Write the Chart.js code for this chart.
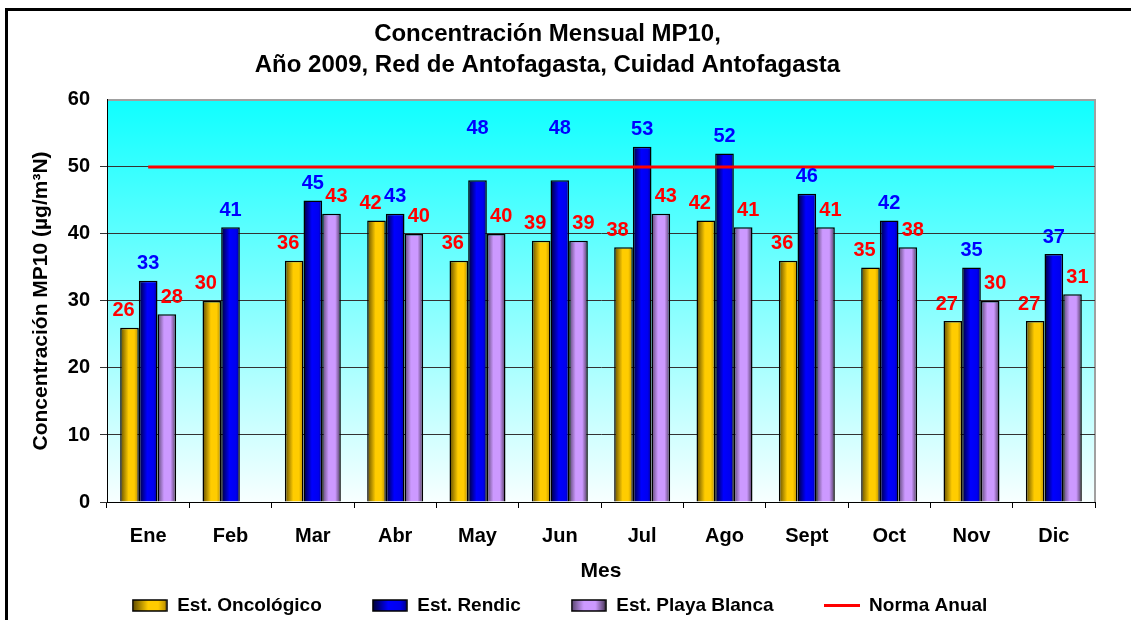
<!DOCTYPE html>
<html lang="es">
<head>
<meta charset="UTF-8">
<title>Concentración Mensual MP10</title>
<script src="https://cdn.jsdelivr.net/npm/chart.js@4.4.1/dist/chart.umd.min.js"></script>
<style>
  html, body { margin: 0; padding: 0; background: #ffffff; }
  .wrap { position: relative; width: 1131px; height: 620px; }
</style>
</head>
<body>
<div class="wrap"><canvas id="mp10"></canvas></div>
<script>
// datos
const meses = ['Ene', 'Feb', 'Mar', 'Abr', 'May', 'Jun', 'Jul', 'Ago', 'Sept', 'Oct', 'Nov', 'Dic'];
const oncologico = [26, 30, 36, 42, 36, 39, 38, 42, 36, 35, 27, 27];
const rendic = [33, 41, 45, 43, 48, 48, 53, 52, 46, 42, 35, 37];
const playaBlanca = [28, null, 43, 40, 40, 39, 43, 41, 41, 38, 30, 31];
const normaAnual = [50, 50, 50, 50, 50, 50, 50, 50, 50, 50, 50, 50];
const yMin = 0, yMax = 60, yPaso = 10;

const FONT = '"Liberation Sans", Arial, sans-serif';
const CAT_PCT = 0.68;

const gradAmarillo = [[0, '#5e4a00'], [0.45, '#ffcc00'], [0.75, '#ffcc00'], [1, '#b88c00']];
const gradAzul = [[0, '#000033'], [0.45, '#0000ff'], [0.8, '#0000f0'], [1, '#000090']];
const gradLila = [[0, '#5a4670'], [0.35, '#cc99ff'], [0.7, '#cc99ff'], [1, '#4a3858']];

// relleno degradado horizontal para cada barra
function rellenoBarra(stops, idx) {
  return function (c) {
    const chart = c.chart;
    const x = chart.scales && chart.scales.x;
    if (!x || c.type !== 'data') return stops[1][1];
    const centro = x.getPixelForValue(c.dataIndex);
    if (!Number.isFinite(centro) || !x.width) return stops[1][1];
    const w = x.width / meses.length * CAT_PCT / 3;
    const izq = centro - w * 1.5 + w * idx;
    const g = chart.ctx.createLinearGradient(izq, 0, izq + w, 0);
    stops.forEach(s => g.addColorStop(s[0], s[1]));
    return g;
  };
}

// muestras de la leyenda
function muestra(stops) {
  const cv = document.createElement('canvas');
  cv.width = 36; cv.height = 13;
  const c = cv.getContext('2d');
  const g = c.createLinearGradient(1, 0, 35, 0);
  stops.forEach(s => g.addColorStop(s[0], s[1]));
  c.fillStyle = g;
  c.fillRect(1, 1, 34, 11);
  c.strokeStyle = '#000';
  c.lineWidth = 1.5;
  c.strokeRect(1, 1, 34, 11);
  return cv;
}
function muestraLinea() {
  const cv = document.createElement('canvas');
  cv.width = 36; cv.height = 13;
  const c = cv.getContext('2d');
  c.fillStyle = '#ff0000';
  c.fillRect(0, 5, 36, 3);
  return cv;
}
const muestras = [muestra(gradAmarillo), muestra(gradAzul), muestra(gradLila), muestraLinea()];

const fondo = {
  id: 'fondo',
  afterLayout(chart) {
    // la leyenda del original está algo corrida a la derecha
    chart.legend.left += 12;
    chart.legend.right += 12;
  },
  beforeDraw(chart) {
    const { ctx, chartArea: a } = chart;
    ctx.save();
    // marco exterior
    ctx.strokeStyle = '#000';
    ctx.lineWidth = 3;
    ctx.strokeRect(6.5, 9.5, 1200, 700);
    const g = ctx.createLinearGradient(0, a.top, 0, a.bottom);
    g.addColorStop(0, '#0fffff');
    g.addColorStop(1, '#f8ffff');
    ctx.fillStyle = g;
    ctx.fillRect(a.left, a.top, a.right - a.left, a.bottom - a.top);
    ctx.strokeStyle = '#a0a0a0';
    ctx.lineWidth = 2;
    ctx.beginPath();
    ctx.moveTo(a.left, a.top);
    ctx.lineTo(a.right, a.top);
    ctx.lineTo(a.right, a.bottom);
    ctx.stroke();
    ctx.restore();
  }
};

const etiquetas = {
  id: 'etiquetas',
  afterDatasetsDraw(chart) {
    const ctx = chart.ctx;
    const y = chart.scales.y;
    ctx.save();
    ctx.font = 'bold 20px ' + FONT;
    ctx.textAlign = 'center';
    ctx.textBaseline = 'middle';
    chart.data.datasets.forEach((ds, i) => {
      if (!ds.colorEtiqueta) return;
      const meta = chart.getDatasetMeta(i);
      meta.data.forEach((bar, j) => {
        const v = ds.data[j];
        if (v == null) return;
        let cy = bar.y - 17;
        // si choca con la línea de la norma, se sube por encima
        const yNorma = y.getPixelForValue(normaAnual[j]);
        if (Math.abs(cy - yNorma) < 7) cy = yNorma - 38;
        ctx.fillStyle = ds.colorEtiqueta;
        ctx.fillText(String(v), bar.x + ds.desplazamiento, cy);
      });
    });
    ctx.restore();
  }
};

new Chart(document.getElementById('mp10'), {
  data: {
    labels: meses,
    datasets: [
      {
        type: 'bar',
        label: 'Est. Oncológico',
        data: oncologico,
        backgroundColor: rellenoBarra(gradAmarillo, 0),
        borderColor: '#000',
        borderWidth: 1.5,
        colorEtiqueta: '#ff0000',
        desplazamiento: -6
      },
      {
        type: 'bar',
        label: 'Est. Rendic',
        data: rendic,
        backgroundColor: rellenoBarra(gradAzul, 1),
        borderColor: '#000',
        borderWidth: 1.5,
        colorEtiqueta: '#0000ff',
        desplazamiento: 0
      },
      {
        type: 'bar',
        label: 'Est. Playa Blanca',
        data: playaBlanca,
        backgroundColor: rellenoBarra(gradLila, 2),
        borderColor: '#000',
        borderWidth: 1.5,
        colorEtiqueta: '#ff0000',
        desplazamiento: 5
      },
      {
        type: 'line',
        label: 'Norma Anual',
        data: normaAnual,
        borderColor: '#ff0000',
        backgroundColor: '#ff0000',
        borderWidth: 3,
        pointRadius: 0,
        order: -1
      }
    ]
  },
  options: {
    responsive: true,
    maintainAspectRatio: false,
    animation: false,
    datasets: { bar: { categoryPercentage: CAT_PCT, barPercentage: 1 } },
    layout: { padding: { left: 0, right: 36, top: 0, bottom: 2 } },
    scales: {
      x: {
        afterFit(s) { s.height = 44; },
        grid: { offset: true, drawOnChartArea: false, color: '#000', tickLength: 6, tickWidth: 1 },
        border: { color: '#000', width: 1 },
        ticks: { color: '#000', font: { family: FONT, size: 20, weight: 'bold' }, padding: 16 },
        title: { display: true, text: 'Mes', color: '#000', font: { family: FONT, size: 21, weight: 'bold' }, padding: { top: 0, bottom: -38 } }
      },
      y: {
        min: yMin,
        max: yMax,
        afterFit(s) { s.width = 107; },
        grid: {
          color: c => (c.tick && c.tick.value === yMax) ? 'rgba(0,0,0,0)' : '#333',
          lineWidth: 1,
          tickLength: 7
        },
        border: { color: '#000', width: 1 },
        ticks: { stepSize: yPaso, color: '#000', font: { family: FONT, size: 20, weight: 'bold' }, padding: 10 },
        title: { display: true, text: 'Concentración MP10 (µg/m³N)', color: '#000', font: { family: FONT, size: 21, weight: 'bold' }, padding: { top: 29, bottom: 0 } }
      }
    },
    plugins: {
      title: {
        display: true,
        text: ['Concentración Mensual MP10,', 'Año 2009, Red de Antofagasta, Cuidad Antofagasta'],
        color: '#000',
        font: { family: FONT, size: 24, weight: 'bold', lineHeight: 1.29 },
        padding: { top: 18.5, bottom: 19.5 }
      },
      legend: {
        position: 'bottom',
        maxHeight: 72,
        labels: {
          color: '#000',
          font: { family: FONT, size: 19, weight: 'bold' },
          usePointStyle: true,
          pointStyleWidth: 36,
          boxHeight: 13,
          padding: 50,
          sort: (a, b) => a.datasetIndex - b.datasetIndex,
          generateLabels(chart) {
            return Chart.defaults.plugins.legend.labels.generateLabels(chart).map(it => {
              it.pointStyle = muestras[it.datasetIndex];
              return it;
            });
          }
        }
      },
      tooltip: { enabled: false }
    }
  },
  plugins: [fondo, etiquetas]
});
</script>
</body>
</html>
